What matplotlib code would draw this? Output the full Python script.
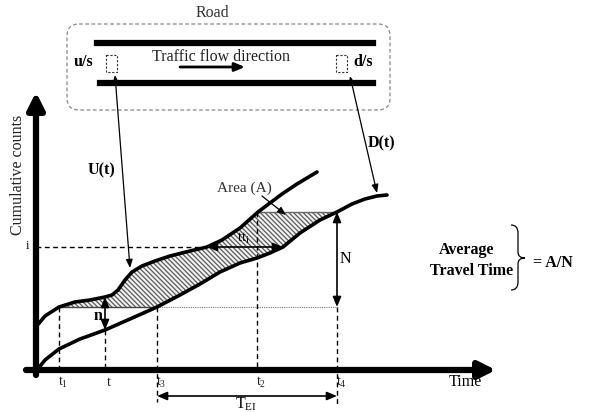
import numpy as np
import matplotlib.pyplot as plt
from matplotlib.patches import FancyBboxPatch, Rectangle, PathPatch
from matplotlib.path import Path

plt.rcParams['font.family'] = ['Liberation Serif', 'DejaVu Serif']
plt.rcParams['hatch.linewidth'] = 0.9
plt.rcParams['hatch.color'] = '#5a5a5a'

# cumulative curves (pixel coords, y down)
up_x = [35, 45, 59, 75, 90, 105, 112, 118, 125, 132, 142, 155, 170, 190, 207, 222, 240, 258, 270, 282, 297, 317]
up_y = [328, 316, 307, 302, 300, 297, 295, 290, 280, 272, 266, 261, 256, 251, 247, 240, 228, 212, 203, 194, 184, 172]
dn_x = [37, 45, 59, 80, 105, 130, 157, 180, 200, 220, 240, 257, 270, 283, 300, 320, 337, 352, 365, 377, 387]
dn_y = [370, 360, 349, 339, 330, 319, 307, 295, 284, 272, 263, 258, 253, 247, 233, 220, 212, 204, 199, 196, 195]

# levels
lvl_low = 307   # count level at t1 / t3
lvl_high = 212  # count level at t2 / t4
lvl_i = 247

tick_x = {'t1': 59, 't': 105, 't3': 157, 't2': 257, 't4': 337}
tick_lbl = {'t1': '$\\mathregular{t_1}$', 't': 't', 't3': '$\\mathregular{t_3}$',
            't2': '$\\mathregular{t_2}$', 't4': '$\\mathregular{t_4}$'}


def x_at(xs, ys, y):
    return float(np.interp(y, ys[::-1], xs[::-1]))


fig = plt.figure(figsize=(5.91, 4.12), dpi=100)
ax = fig.add_axes([0, 0, 1, 1])
ax.set_xlim(0, 591)
ax.set_ylim(412, 0)
ax.axis('off')

# hatched area between curves
ux = np.array(up_x, float); uy = np.array(up_y, float)
dx = np.array(dn_x, float); dy = np.array(dn_y, float)
u0, u1 = x_at(ux, uy, lvl_low), x_at(ux, uy, lvl_high)
d0, d1 = x_at(dx, dy, lvl_low), x_at(dx, dy, lvl_high)
mu = (uy <= lvl_low) & (uy >= lvl_high)
md = (dy <= lvl_low) & (dy >= lvl_high)
px = [u0] + list(ux[mu]) + [u1, d1] + list(dx[md][::-1]) + [d0]
py = [lvl_low] + list(uy[mu]) + [lvl_high, lvl_high] + list(dy[md][::-1]) + [lvl_low]
ax.fill(px, py, facecolor='#f2f2f2', hatch='\\\\\\\\\\\\\\', edgecolor='#5a5a5a', lw=0)
ax.plot([u0, d0], [lvl_low, lvl_low], color='#444444', lw=1)
ax.plot([u1, d1], [lvl_high, lvl_high], color='#666666', lw=1)
ax.plot([d0, tick_x['t4']], [lvl_low, lvl_low], color='#777777', lw=0.8, ls=(0, (1, 1)))

# curves
ax.plot(up_x, up_y, color='black', lw=2.6, solid_capstyle='round')
ax.plot(dn_x, dn_y, color='black', lw=2.6, solid_capstyle='round')

# axes arrows
ax.annotate('', xy=(36, 92), xytext=(36, 375),
            arrowprops=dict(arrowstyle='-|>,head_length=1.0,head_width=0.5', lw=4.5, color='black', shrinkA=0, shrinkB=0))
ax.annotate('', xy=(496, 370), xytext=(26, 370),
            arrowprops=dict(arrowstyle='-|>,head_length=1.0,head_width=0.5', lw=4.5, color='black', shrinkA=0, shrinkB=0))

dash = dict(color='black', lw=1, ls=(0, (3.5, 2.5)))
ax.plot([36, x_at(ux, uy, lvl_i)], [lvl_i, lvl_i], **dash)
ax.plot([tick_x['t1']] * 2, [lvl_low, 370], **dash)
ax.plot([tick_x['t']] * 2, [330, 370], **dash)
ax.plot([tick_x['t3']] * 2, [lvl_low, 402], **dash)
ax.plot([tick_x['t2']] * 2, [lvl_high, 370], **dash)
ax.plot([tick_x['t4']] * 2, [lvl_low, 404], **dash)

arr2 = dict(arrowstyle='<|-|>,head_length=0.6,head_width=0.25', lw=1.2, color='black', shrinkA=0, shrinkB=0)
ax.annotate('', xy=(x_at(ux, uy, lvl_i), lvl_i), xytext=(x_at(dx, dy, lvl_i), lvl_i), arrowprops=arr2)
ax.annotate('', xy=(337, lvl_high), xytext=(337, lvl_low), arrowprops=arr2)
ax.annotate('', xy=(105, 297), xytext=(105, 330), arrowprops=arr2)
ax.annotate('', xy=(157, 396), xytext=(337, 396), arrowprops=arr2)
arr2t = dict(arrowstyle='<|-|>,head_length=0.5,head_width=0.2', lw=0.9, color='black', shrinkA=0, shrinkB=0)
ax.annotate('', xy=(115, 75), xytext=(130, 268), arrowprops=arr2t)
ax.annotate('', xy=(350, 76), xytext=(377, 193), arrowprops=arr2t)
ax.annotate('', xy=(286, 215), xytext=(262, 196),
            arrowprops=dict(arrowstyle='-|>,head_length=0.5,head_width=0.2', lw=0.9, color='black', shrinkA=0, shrinkB=0))

# road
ax.add_patch(FancyBboxPatch((67, 24), 323, 86, boxstyle='round,pad=0,rounding_size=12',
                            fill=False, ec='#888888', lw=0.9, ls=(0, (3, 2))))
ax.plot([97, 373], [43, 43], color='black', lw=4.5)
ax.plot([100, 373], [83, 83], color='black', lw=4.5)
ax.add_patch(Rectangle((106, 55), 11, 17, fill=False, ec='#333333', lw=0.8, ls=(0, (2, 1.5))))
ax.add_patch(Rectangle((336, 55), 11, 17, fill=False, ec='#333333', lw=0.8, ls=(0, (2, 1.5))))
ax.annotate('', xy=(245, 67), xytext=(180, 67),
            arrowprops=dict(arrowstyle='-|>,head_length=0.6,head_width=0.25', lw=2, color='black', shrinkA=0, shrinkB=0))

# brace
bv = [(511, 225), (518, 225), (518, 233), (518, 252), (518, 258), (525, 258),
      (518, 258), (518, 264), (518, 282), (518, 290), (511, 290)]
bc = [Path.MOVETO, Path.CURVE3, Path.CURVE3, Path.LINETO, Path.CURVE3, Path.CURVE3,
      Path.CURVE3, Path.CURVE3, Path.LINETO, Path.CURVE3, Path.CURVE3]
ax.add_patch(PathPatch(Path(bv, bc), fill=False, lw=0.9, ec='black'))

# texts
fs = 11.5
ax.text(212, 13, 'Road', ha='center', va='center', fontsize=fs, color='#333333')
ax.text(221, 57, 'Traffic flow direction', ha='center', va='center', fontsize=fs, color='#222222')
ax.text(84, 62, 'u/s', ha='center', va='center', fontsize=fs, fontweight='bold')
ax.text(363, 62, 'd/s', ha='center', va='center', fontsize=fs, fontweight='bold')
ax.text(18, 175, 'Cumulative counts', rotation=90, ha='center', va='center', fontsize=fs, color='#222222')
ax.text(101, 170, 'U(t)', ha='center', va='center', fontsize=fs, fontweight='bold')
ax.text(382, 143, 'D(t)', ha='center', va='center', fontsize=fs, fontweight='bold')
ax.text(244, 188, 'Area (A)', ha='center', va='center', fontsize=11, color='#333333')
ax.text(243, 238, '$\\mathregular{tt_i}$', ha='center', va='center', fontsize=10.5)
ax.text(27, 246, 'i', ha='center', va='center', fontsize=9)
ax.text(98, 316, 'n', ha='center', va='center', fontsize=fs, fontweight='bold')
ax.text(345, 259, 'N', ha='center', va='center', fontsize=fs)
for k in tick_x:
    ax.text(tick_x[k] + 4, 382, tick_lbl[k], ha='center', va='center', fontsize=10, color='#222222')
ax.text(465, 382, 'Time', ha='center', va='center', fontsize=fs)
ax.text(246, 404, '$\\mathregular{T_{EI}}$', ha='center', va='center', fontsize=fs)
ax.text(467, 250, 'Average', ha='center', va='center', fontsize=fs, fontweight='bold')
ax.text(472, 271, 'Travel Time', ha='center', va='center', fontsize=fs, fontweight='bold')
ax.text(553, 263, '= A/N', ha='center', va='center', fontsize=fs, fontweight='bold')

fig.savefig('out.png', dpi=100)
